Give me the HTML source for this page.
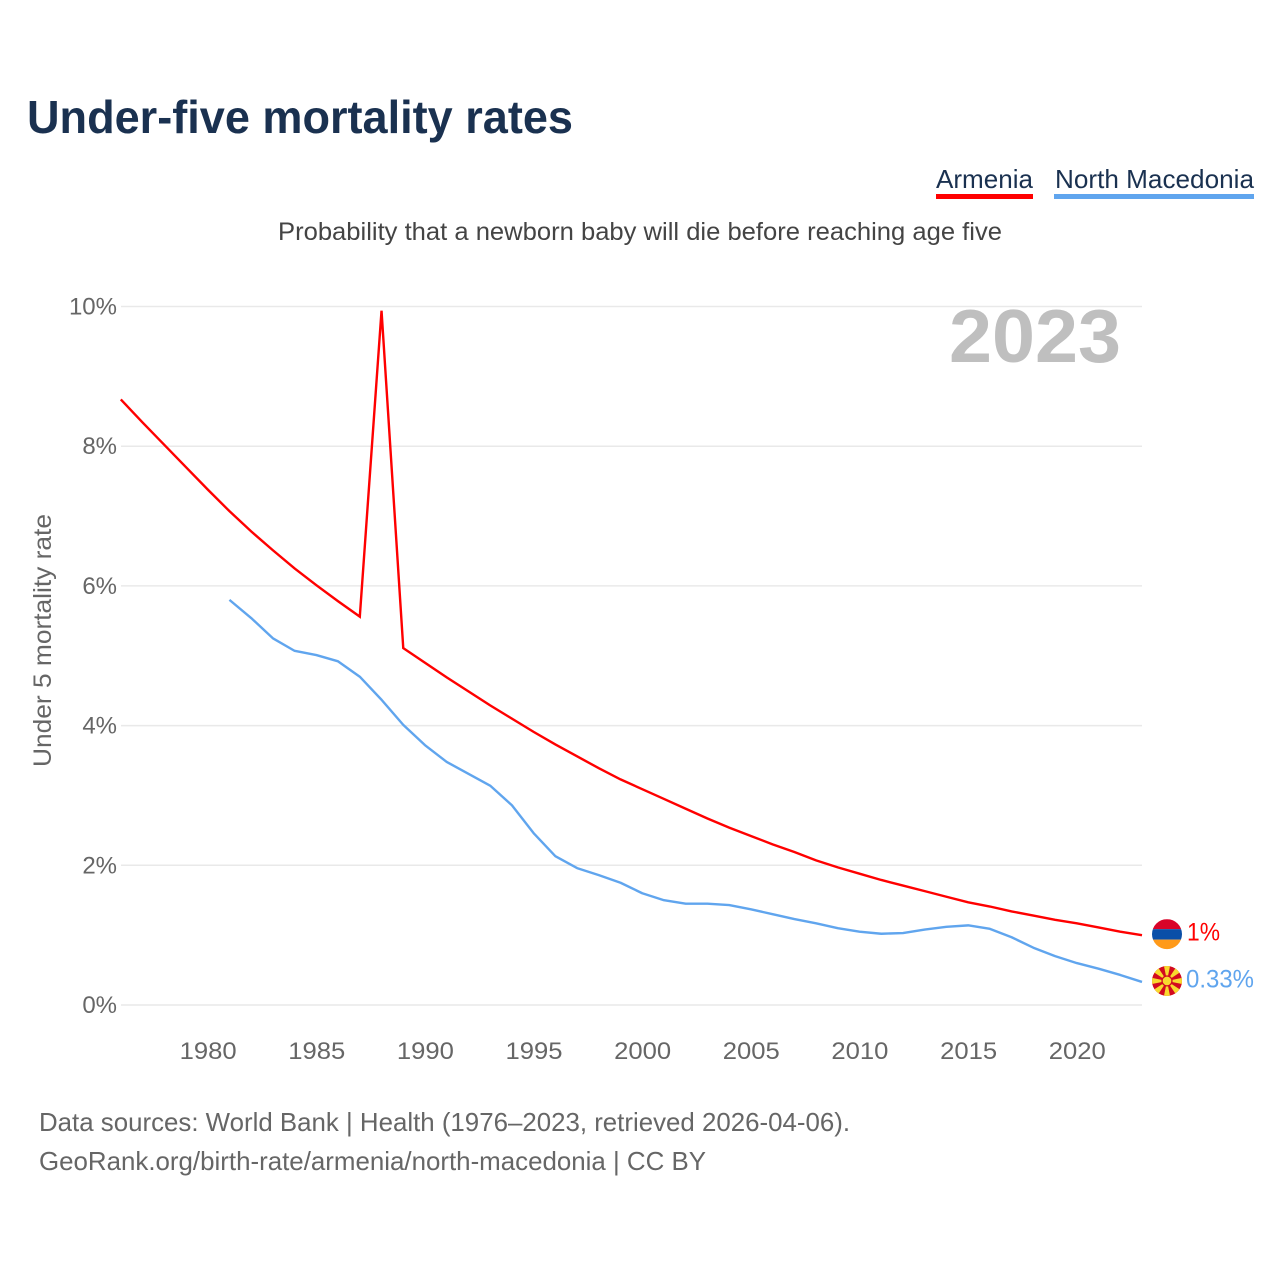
<!DOCTYPE html>
<html lang="en">
<head>
<meta charset="utf-8">
<title>Under-five mortality rates</title>
<style>
html,body{margin:0;padding:0;background:#fff;}
svg{display:block;font-family:"Liberation Sans",sans-serif;}
</style>
</head>
<body>
<svg id="chart" xmlns="http://www.w3.org/2000/svg" width="1280" height="1280" viewBox="0 0 1280 1280">
  <rect x="0" y="0" width="1280" height="1280" fill="#fff"/>
  <text x="27" y="133" font-size="46" font-weight="700" fill="#1a3150" textLength="546" lengthAdjust="spacingAndGlyphs">Under-five mortality rates</text>

  <g>
    <text x="936" y="188" font-size="26" fill="#1a3150" textLength="97" lengthAdjust="spacingAndGlyphs">Armenia</text>
    <rect x="936" y="194" width="97" height="5" fill="#ff0000"/>
  </g>
  <g>
    <text x="1055" y="188" font-size="26" fill="#1a3150" textLength="199" lengthAdjust="spacingAndGlyphs">North Macedonia</text>
    <rect x="1054" y="194" width="200" height="5" fill="#60a5ee"/>
  </g>

  <text x="278" y="240" font-size="25" fill="#444" textLength="724" lengthAdjust="spacingAndGlyphs">Probability that a newborn baby will die before reaching age five</text>
  <text transform="translate(51,767) rotate(-90)" x="0" y="0" font-size="25" fill="#666" textLength="253" lengthAdjust="spacingAndGlyphs">Under 5 mortality rate</text>

  <g id="grid"></g>
  <g id="yticks"></g>
  <g id="xticks"></g>

  <text x="949" y="362" font-size="75" font-weight="700" fill="#bfbfbf" textLength="172" lengthAdjust="spacingAndGlyphs">2023</text>

  <g id="series"></g>
  <g id="ends"></g>

  <text x="39" y="1131" font-size="26" fill="#666" textLength="811" lengthAdjust="spacingAndGlyphs">Data sources: World Bank | Health (1976–2023, retrieved 2026-04-06).</text>
  <text x="39" y="1170" font-size="26" fill="#666" textLength="667" lengthAdjust="spacingAndGlyphs">GeoRank.org/birth-rate/armenia/north-macedonia | CC BY</text>
</svg>
<script>
var armeniaStartYear = 1976;
var armeniaValues = [8.67,8.34,8.02,7.70,7.38,7.07,6.78,6.51,6.25,6.01,5.78,5.56,9.94,5.11,4.90,4.69,4.49,4.29,4.10,3.91,3.73,3.56,3.39,3.23,3.09,2.95,2.81,2.67,2.54,2.42,2.30,2.19,2.07,1.97,1.88,1.79,1.71,1.63,1.55,1.47,1.41,1.34,1.28,1.22,1.17,1.11,1.05,1.00];
var macedoniaStartYear = 1981;
var macedoniaValues = [5.80,5.54,5.25,5.07,5.01,4.92,4.70,4.37,4.01,3.72,3.48,3.31,3.14,2.86,2.46,2.13,1.96,1.86,1.75,1.60,1.50,1.45,1.45,1.43,1.37,1.30,1.23,1.17,1.10,1.05,1.02,1.03,1.08,1.12,1.14,1.09,0.97,0.82,0.70,0.60,0.52,0.43,0.33];
var yTickValues = [0,2,4,6,8,10];
var xTickYears = [1980,1985,1990,1995,2000,2005,2010,2015,2020];
var armeniaEndLabel = "1%";
var macedoniaEndLabel = "0.33%";

var NS = "http://www.w3.org/2000/svg";
function xScale(year){ return 120.8 + (year - 1976) * (1142 - 120.8) / 47; }
function yScale(v){ return 1005 - v * 69.85; }
function make(tag, attrs, parent){
  var el = document.createElementNS(NS, tag);
  for (var k in attrs) el.setAttribute(k, attrs[k]);
  parent.appendChild(el);
  return el;
}
var gridG = document.getElementById("grid");
var yG = document.getElementById("yticks");
var xG = document.getElementById("xticks");
var seriesG = document.getElementById("series");
var endsG = document.getElementById("ends");

yTickValues.forEach(function(v){
  var line = make("line", {x1:121, x2:1142, y1:yScale(v), y2:yScale(v), stroke:"#e9e9e9", "stroke-width":1.5}, gridG);
  
  
  var t = make("text", {x:117, y:yScale(v)+8, "text-anchor":"end", "font-size":24, fill:"#666"}, yG);
  
  
  t.textContent = v + "%";
});
xTickYears.forEach(function(yr){
  var t = make("text", {x:xScale(yr)+0.4, y:1059, "text-anchor":"middle", "font-size":24, fill:"#666", textLength:57, lengthAdjust:"spacingAndGlyphs"}, xG);
  
  
  t.textContent = yr;
});
function pathFor(start, values){
  return values.map(function(v,i){
    return (i ? "L" : "M") + xScale(start + i).toFixed(2) + " " + yScale(v).toFixed(2);
  }).join("");
}
var armeniaLine = make("path", {d:pathFor(armeniaStartYear, armeniaValues), fill:"none", stroke:"#ff0000", "stroke-width":2.4, "stroke-linejoin":"miter"}, seriesG);


var macedoniaLine = make("path", {d:pathFor(macedoniaStartYear, macedoniaValues), fill:"none", stroke:"#60a5ee", "stroke-width":2.4, "stroke-linejoin":"round"}, seriesG);



var cx = 1167;
var defs = make("defs", {}, endsG);
function addClip(id, cy){
  var c = make("clipPath", {id:id}, defs);
  make("circle", {cx:cx, cy:cy, r:15}, c);
}
var amY = yScale(armeniaValues[armeniaValues.length-1]) - 1;
var mkY = yScale(macedoniaValues[macedoniaValues.length-1]) - 1;
addClip("clip-am", amY);
addClip("clip-mk", mkY);

var amFlag = make("g", {"clip-path":"url(#clip-am)"}, endsG);


make("rect", {x:cx-15, y:amY-15, width:30, height:10, fill:"#d90429"}, amFlag);
make("rect", {x:cx-15, y:amY-5, width:30, height:10.5, fill:"#0a4fa8"}, amFlag);
make("rect", {x:cx-15, y:amY+5.5, width:30, height:10, fill:"#ff9a1a"}, amFlag);

var mkFlag = make("g", {"clip-path":"url(#clip-mk)"}, endsG);


make("rect", {x:cx-15, y:mkY-15, width:30, height:30, fill:"#d20a1f"}, mkFlag);
for (var r = 0; r < 8; r++){
  var a = r * Math.PI / 4;
  var w = 0.2;
  var pts = [[0,0],[Math.cos(a-w)*22,Math.sin(a-w)*22],[Math.cos(a+w)*22,Math.sin(a+w)*22]];
  make("polygon", {points:pts.map(function(p){return (cx+p[0]).toFixed(2)+","+(mkY+p[1]).toFixed(2);}).join(" "), fill:"#f8d92e"}, mkFlag);
}
make("circle", {cx:cx, cy:mkY, r:5.6, fill:"#d20a1f"}, mkFlag);
make("circle", {cx:cx, cy:mkY, r:4.3, fill:"#f8d92e"}, mkFlag);

var amLabel = make("text", {x:1187, y:amY+6.5, "font-size":25, fill:"#ff0000", textLength:33, lengthAdjust:"spacingAndGlyphs"}, endsG);


amLabel.textContent = armeniaEndLabel;
var mkLabel = make("text", {x:1186, y:mkY+6.5, "font-size":25, fill:"#60a5ee", textLength:68, lengthAdjust:"spacingAndGlyphs"}, endsG);


mkLabel.textContent = macedoniaEndLabel;
</script>
</body>
</html>
